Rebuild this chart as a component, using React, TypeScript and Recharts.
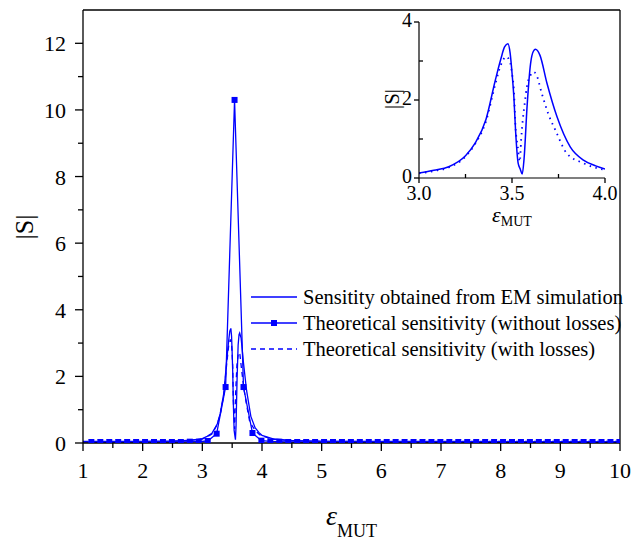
import React from 'react';
import { LineChart, Line, XAxis, YAxis, ReferenceLine, Label, Legend } from 'recharts';

// ---- Data ----
// Sensitivity obtained from EM simulation
const emX = [1.0, 2.0, 2.5, 2.8, 3.0, 3.08, 3.16, 3.25, 3.3, 3.36, 3.41, 3.44, 3.46, 3.478, 3.49, 3.5, 3.51, 3.519, 3.533, 3.545, 3.555, 3.565, 3.581, 3.6, 3.615, 3.626, 3.65, 3.688, 3.742, 3.813, 3.884, 3.95, 4.0, 4.2, 4.5, 5.0, 6.0, 8.0, 10.0];
const emY = [0.03, 0.04, 0.05, 0.08, 0.13, 0.2, 0.29, 0.57, 0.88, 1.5, 2.5, 3.05, 3.36, 3.44, 3.2, 2.7, 2.08, 1.23, 0.38, 0.22, 0.1, 0.5, 1.83, 2.94, 3.25, 3.3, 3.15, 2.43, 1.57, 0.8, 0.46, 0.31, 0.23, 0.12, 0.07, 0.05, 0.04, 0.03, 0.03];

// Theoretical sensitivity (without losses)
const losslessX = [1.14, 1.29, 1.44, 1.59, 1.74, 1.89, 2.04, 2.19, 2.34, 2.49, 2.64, 2.79, 2.94, 3.09, 3.24, 3.39, 3.54, 3.69, 3.84, 3.99, 4.14, 4.29, 4.44, 4.59, 4.74, 4.89, 5.04, 5.19, 5.34, 5.49, 5.64, 5.79, 5.94, 6.09, 6.24, 6.39, 6.54, 6.69, 6.84, 6.99, 7.14, 7.29, 7.44, 7.59, 7.74, 7.89, 8.04, 8.19, 8.34, 8.49, 8.64, 8.79, 8.94, 9.09, 9.24, 9.39, 9.54, 9.69, 9.84, 9.99];
const losslessY = [0.03, 0.03, 0.03, 0.03, 0.03, 0.03, 0.03, 0.03, 0.03, 0.03, 0.03, 0.04, 0.04, 0.06, 0.28, 1.68, 10.3, 1.68, 0.3, 0.07, 0.05, 0.04, 0.03, 0.03, 0.03, 0.03, 0.03, 0.03, 0.03, 0.03, 0.03, 0.03, 0.03, 0.03, 0.03, 0.03, 0.03, 0.03, 0.03, 0.03, 0.03, 0.03, 0.03, 0.03, 0.03, 0.03, 0.03, 0.03, 0.03, 0.03, 0.03, 0.03, 0.03, 0.03, 0.03, 0.03, 0.03, 0.03, 0.03, 0.03];

// Theoretical sensitivity (with losses)
const lossX = [1.0, 2.0, 2.5, 2.8, 3.0, 3.08, 3.16, 3.25, 3.3, 3.36, 3.41, 3.44, 3.47, 3.49, 3.5, 3.51, 3.519, 3.531, 3.542, 3.549, 3.558, 3.568, 3.58, 3.6, 3.615, 3.63, 3.66, 3.697, 3.733, 3.795, 3.884, 3.96, 4.0, 4.2, 4.5, 5.0, 6.0, 8.0, 10.0];
const lossY = [0.05, 0.05, 0.06, 0.08, 0.12, 0.18, 0.27, 0.55, 0.86, 1.45, 2.4, 2.9, 3.11, 2.95, 2.68, 2.26, 1.3, 0.8, 0.42, 0.97, 1.49, 1.9, 2.34, 2.64, 2.72, 2.66, 2.17, 1.62, 1.23, 0.63, 0.38, 0.25, 0.21, 0.11, 0.07, 0.05, 0.05, 0.05, 0.05];

const mainXTicks = [1, 1.5, 2, 2.5, 3, 3.5, 4, 4.5, 5, 5.5, 6, 6.5, 7, 7.5, 8, 8.5, 9, 9.5, 10];
const mainYTicks = [0, 1, 2, 3, 4, 5, 6, 7, 8, 9, 10, 11, 12];
const insetXTicks = [3, 3.25, 3.5, 3.75, 4];
const insetYTicks = [0, 1, 2, 3, 4];

const legendLabels = [
  'Sensitity obtained from EM simulation',
  'Theoretical sensitivity (without losses)',
  'Theoretical sensitivity (with losses)',
];

// ---- Styling ----
const BLUE = '#0000ff';
const FONT = '"Liberation Serif", "Times New Roman", Times, serif';

const zip = (xs: number[], ys: number[]) => xs.map((x, i) => ({ x, y: ys[i] }));
const emData = zip(emX, emY);
const losslessData = zip(losslessX, losslessY);
const lossData = zip(lossX, lossY);
const inRange = (p: { x: number }) => p.x >= 3 && p.x <= 4;
const emInset = emData.filter(inRange);
const lossInset = lossData.filter(inRange);

const isInt = (v: number) => Math.abs(v - Math.round(v)) < 1e-9;
const isEven = (v: number) => isInt(v) && Math.round(v) % 2 === 0;
const isHalf = (v: number) => isInt(v * 2);

function makeXTick(opts: { major: (v: number) => boolean; fmt: (v: number) => string; fontSize: number; majorLen: number; minorLen: number; dy: number }) {
  return (props: any) => {
    const { x, y, payload } = props;
    const v = payload.value;
    const major = opts.major(v);
    return (
      <g>
        <line x1={x} x2={x} y1={y} y2={y + (major ? opts.majorLen : opts.minorLen)} stroke="#000" strokeWidth={1.3} />
        {major && (
          <text x={x} y={y + opts.dy} textAnchor="middle" fontFamily={FONT} fontSize={opts.fontSize} fill="#000">
            {opts.fmt(v)}
          </text>
        )}
      </g>
    );
  };
}

function makeYTick(opts: { major: (v: number) => boolean; fontSize: number; majorLen: number; minorLen: number; dx: number; dy: number }) {
  return (props: any) => {
    const { x, y, payload } = props;
    const v = payload.value;
    const major = opts.major(v);
    return (
      <g>
        <line x1={x} x2={x - (major ? opts.majorLen : opts.minorLen)} y1={y} y2={y} stroke="#000" strokeWidth={1.3} />
        {major && (
          <text x={x - opts.dx} y={y + opts.dy} textAnchor="end" fontFamily={FONT} fontSize={opts.fontSize} fill="#000">
            {String(v)}
          </text>
        )}
      </g>
    );
  };
}

const MainXTick = makeXTick({ major: isInt, fmt: (v) => String(v), fontSize: 22, majorLen: 8, minorLen: 5, dy: 35 });
const MainYTick = makeYTick({ major: isEven, fontSize: 22, majorLen: 8, minorLen: 5, dx: 17, dy: 8 });
const InsetXTick = makeXTick({ major: isHalf, fmt: (v) => v.toFixed(1), fontSize: 20, majorLen: 5, minorLen: -4, dy: 22 });
const InsetYTick = makeYTick({ major: isEven, fontSize: 20, majorLen: 5, minorLen: -4, dx: 7, dy: 5 });

const squareDot = (p: any) => (
  <rect key={`sq-${p.index}`} x={p.cx - 3} y={p.cy - 3} width={6} height={6} fill={BLUE} />
);

const renderLegend = () => (
  <div style={{ fontFamily: FONT, fontSize: 20.5, color: '#000', whiteSpace: 'nowrap' }}>
    {legendLabels.map((label, i) => (
      <div key={label} style={{ height: 26, display: 'flex', alignItems: 'center' }}>
        <svg width={55} height={26} style={{ display: 'block' }}>
          <line x1={3} x2={49} y1={13} y2={13} stroke={BLUE} strokeWidth={1.4} strokeDasharray={i === 2 ? '5 4' : undefined} />
          {i === 1 && <rect x={23} y={10} width={6} height={6} fill={BLUE} />}
        </svg>
        <span>{label}</span>
      </div>
    ))}
  </div>
);

const mainXTitle = (props: any) => {
  const vb = props.viewBox;
  const cx = vb.x + vb.width / 2;
  return (
    <text x={cx} y={525} textAnchor="middle" fontFamily={FONT} fill="#000">
      <tspan fontStyle="italic" fontSize={28}>ε</tspan>
      <tspan fontSize={18} dy={12}>MUT</tspan>
    </text>
  );
};

const mainYTitle = () => (
  <text x={24} y={227} transform="rotate(-90 24 227)" textAnchor="middle" dominantBaseline="central" fontFamily={FONT} fontSize={26} fill="#000">
    |S|
  </text>
);

const insetXTitle = (props: any) => {
  const vb = props.viewBox;
  const cx = vb.x + vb.width / 2;
  return (
    <text x={cx} y={222} textAnchor="middle" fontFamily={FONT} fill="#000">
      <tspan fontStyle="italic" fontSize={22}>ε</tspan>
      <tspan fontSize={14} dy={4}>MUT</tspan>
    </text>
  );
};

const insetYTitle = () => (
  <text x={32} y={99} transform="rotate(-90 32 99)" textAnchor="middle" dominantBaseline="central" fontFamily={FONT} fontSize={21} fill="#000">
    |S|
  </text>
);

export default function App() {
  return (
    <div style={{ position: 'absolute', left: 0, top: 0, width: 635, height: 540, background: '#fff' }}>
      <LineChart width={635} height={540} margin={{ top: 10, right: 15, left: 0, bottom: 0 }}>
        <XAxis
          type="number"
          dataKey="x"
          domain={[1, 10]}
          ticks={mainXTicks}
          interval={0}
          tickSize={0}
          tickMargin={0}
          tick={MainXTick}
          height={97}
          allowDataOverflow
          axisLine={{ stroke: '#000', strokeWidth: 1.3 }}
        >
          <Label content={mainXTitle} />
        </XAxis>
        <YAxis
          type="number"
          dataKey="y"
          domain={[0, 13]}
          ticks={mainYTicks}
          interval={0}
          tickSize={0}
          tickMargin={0}
          tick={MainYTick}
          width={83}
          allowDataOverflow
          axisLine={{ stroke: '#000', strokeWidth: 1.3 }}
        >
          <Label content={mainYTitle} />
        </YAxis>
        <ReferenceLine y={13} stroke="#000" strokeWidth={1.3} />
        <ReferenceLine x={10} stroke="#000" strokeWidth={1.3} />
        <Line data={emData} dataKey="y" type="linear" stroke={BLUE} strokeWidth={1.3} dot={false} activeDot={false} isAnimationActive={false} name={legendLabels[0]} />
        <Line data={losslessData} dataKey="y" type="linear" stroke={BLUE} strokeWidth={1.3} dot={squareDot} activeDot={false} isAnimationActive={false} name={legendLabels[1]} />
        <Line data={lossData} dataKey="y" type="linear" stroke={BLUE} strokeWidth={1.3} strokeDasharray="5 4" dot={false} activeDot={false} isAnimationActive={false} name={legendLabels[2]} />
        <Legend
          content={renderLegend}
          layout="vertical"
          align="center"
          verticalAlign="middle"
          wrapperStyle={{ left: 248, top: 284, width: 390 }}
        />
      </LineChart>
      <div style={{ position: 'absolute', left: 360, top: 0 }}>
        <LineChart width={260} height={235} margin={{ top: 22, right: 15, left: 0, bottom: 0 }}>
          <XAxis
            type="number"
            dataKey="x"
            domain={[3, 4]}
            ticks={insetXTicks}
            interval={0}
            tickSize={0}
            tickMargin={0}
            tick={InsetXTick}
            height={57}
            allowDataOverflow
            axisLine={{ stroke: '#000', strokeWidth: 1.2 }}
          >
            <Label content={insetXTitle} />
          </XAxis>
          <YAxis
            type="number"
            dataKey="y"
            domain={[0, 4]}
            ticks={insetYTicks}
            interval={0}
            tickSize={0}
            tickMargin={0}
            tick={InsetYTick}
            width={59}
            allowDataOverflow
            axisLine={{ stroke: '#000', strokeWidth: 1.2 }}
          >
            <Label content={insetYTitle} />
          </YAxis>
          <Line data={emInset} dataKey="y" type="monotone" stroke={BLUE} strokeWidth={1.5} dot={false} activeDot={false} isAnimationActive={false} />
          <Line data={lossInset} dataKey="y" type="monotone" stroke={BLUE} strokeWidth={1.8} strokeDasharray="1.5 4.5" dot={false} activeDot={false} isAnimationActive={false} />
        </LineChart>
      </div>
    </div>
  );
}
